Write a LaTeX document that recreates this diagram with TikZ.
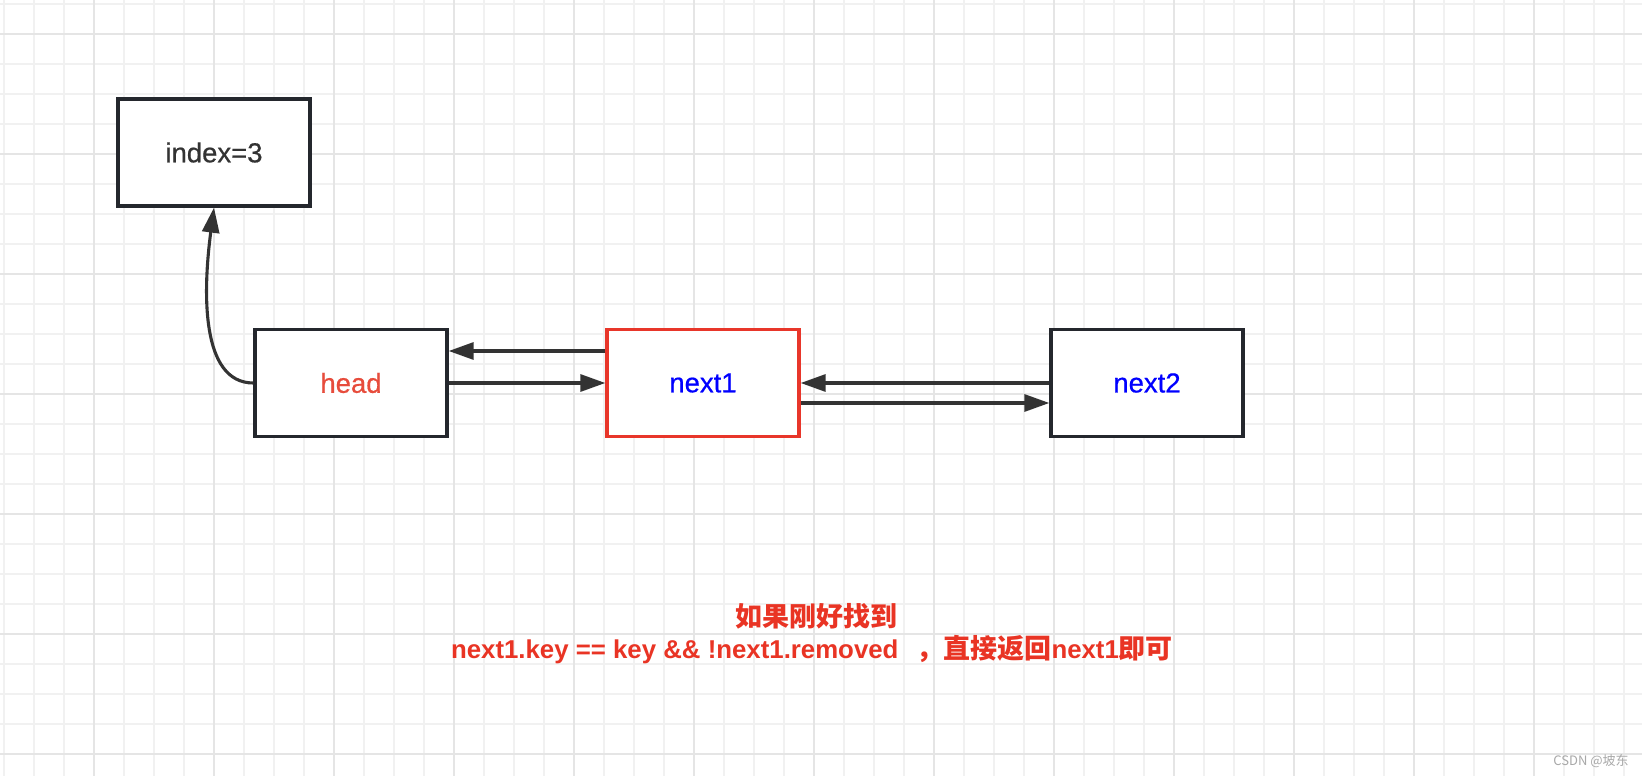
\documentclass[tikz,border=0pt]{standalone}
\usepackage{fontspec}
\setmainfont{Liberation Sans}
\newfontfamily\cjk{Noto Sans CJK SC}
\newfontfamily\labfont[FakeBold=0.6]{Liberation Sans}
\usetikzlibrary{arrows.meta}
\definecolor{gridminor}{HTML}{F1F1F1}
\definecolor{gridmajor}{HTML}{E5E5E5}
\definecolor{boxc}{HTML}{24272D}
\definecolor{arrc}{HTML}{333333}
\definecolor{labc}{HTML}{333333}
\definecolor{headred}{HTML}{E74C3C}
\definecolor{boxred}{HTML}{E8362A}
\definecolor{txtred}{HTML}{E93424}
\definecolor{wmark}{HTML}{A8A8A8}
\newcommand{\cjkbig}{\cjk\fontsize{27}{30}\selectfont}
\tikzset{
  minorline/.style={draw=gridminor, line width=1.3pt},
  majorline/.style={draw=gridmajor, line width=1.7pt},
  listbox/.style={draw=boxc, line width=3.3pt, fill=white, minimum width=192pt,
    minimum height=107pt, inner sep=0pt, font=\labfont\fontsize{27.5}{30}\selectfont},
  redbox/.style={listbox, draw=boxred},
  arr/.style={draw=arrc, line width=3.1pt, -{Triangle[length=25pt,width=17pt]}},
  note/.style={text=txtred, font=\fontsize{25.8}{30}\selectfont\bfseries, inner sep=0pt},
}
\begin{document}
\begin{tikzpicture}[x=1pt,y=-1pt]
\useasboundingbox (0,0) rectangle (1642,776);
\fill[white] (0,0) rectangle (1642,776);
% grid
\foreach \x in {4,34,...,1624} \draw[minorline] (\x,0) -- (\x,776);
\foreach \y in {4,34,...,754} \draw[minorline] (0,\y) -- (1642,\y);
\foreach \x in {94,214,...,1534} \draw[majorline] (\x,0) -- (\x,776);
\foreach \y in {34,154,...,754} \draw[majorline] (0,\y) -- (1642,\y);
% nodes
\node[listbox, text=labc] (index) at (214,152.5) {index=3};
\node[listbox, text=headred] (head) at (351,383) {head};
\node[redbox, text=blue] (next1) at (703,383) {next1};
\node[listbox, text=blue] (next2) at (1147,383) {next2};
% connectors
\draw[arr] (head.west) .. controls +(-53,0) and +(-11,83) .. (index.south);
\draw[arr] ([yshift=32pt]next1.west) -- ([yshift=32pt]head.east);
\draw[arr] (head.east) -- (next1.west);
\draw[arr] (next2.west) -- (next1.east);
\draw[arr] ([yshift=-20pt]next1.east) -- ([yshift=-20pt]next2.west);
% note
\node[note] (note1) at (816,616) {\cjkbig 如果刚好找到};
\node[note] (note2) at (812,650) {next1.key == key \&\& !next1.removed\hspace{18pt}{\cjkbig ，直接返回}next1{\cjkbig 即可}};
% watermark
\node[text=wmark, font=\cjk\fontsize{13}{15}\selectfont, inner sep=0pt] (wm) at (1591,761) {CSDN @坡东};
\end{tikzpicture}
\end{document}
